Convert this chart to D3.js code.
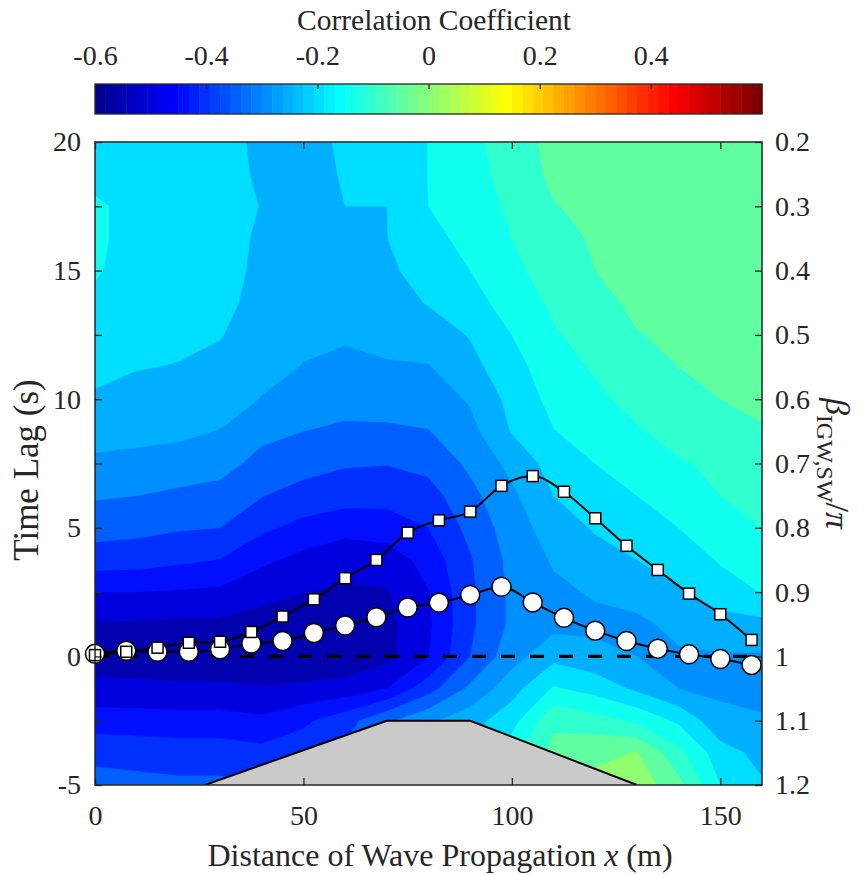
<!DOCTYPE html>
<html>
<head>
<meta charset="utf-8">
<script src="https://cdn.jsdelivr.net/npm/d3@7"></script>
<style>
  body { margin: 0; background: #fff; }
  text { font-family: "Liberation Serif", "Times New Roman", serif; fill: #262626; }
</style>
</head>
<body>
<div id="chart"></div>
<script>
// grid of the correlation map: columns = distance (m), rows = time lag (s), top row first
const distGrid = [0, 10, 20, 30, 40, 50, 60, 70, 80, 90, 100, 110, 120, 130, 140, 150, 160];
const lagGrid = [20, 18.75, 17.5, 16.25, 15, 13.75, 12.5, 11.25, 10, 8.75, 7.5, 6.25, 5, 3.75, 2.5, 1.25, 0, -1.25, -2.5, -3.75, -5];
const corr = [
  [-0.18, -0.185, -0.185, -0.19, -0.206, -0.222, -0.19, -0.185, -0.149, -0.113, -0.075, -0.035, -0.033, -0.03, -0.03, -0.03, -0.03],
  [-0.17, -0.18, -0.185, -0.19, -0.204, -0.222, -0.195, -0.19, -0.149, -0.12, -0.08, -0.04, -0.035, -0.03, -0.03, -0.03, -0.03],
  [-0.14, -0.17, -0.18, -0.188, -0.201, -0.225, -0.2, -0.2, -0.15, -0.13, -0.09, -0.052, -0.04, -0.03, -0.03, -0.03, -0.03],
  [-0.14, -0.17, -0.18, -0.19, -0.204, -0.225, -0.205, -0.201, -0.16, -0.14, -0.1, -0.065, -0.045, -0.032, -0.03, -0.03, -0.03],
  [-0.145, -0.17, -0.18, -0.19, -0.206, -0.228, -0.215, -0.21, -0.178, -0.15, -0.11, -0.08, -0.05, -0.035, -0.032, -0.03, -0.03],
  [-0.16, -0.175, -0.18, -0.192, -0.21, -0.232, -0.225, -0.22, -0.197, -0.168, -0.13, -0.092, -0.065, -0.04, -0.036, -0.032, -0.032],
  [-0.175, -0.185, -0.19, -0.198, -0.22, -0.24, -0.245, -0.235, -0.225, -0.197, -0.15, -0.105, -0.08, -0.052, -0.042, -0.036, -0.035],
  [-0.19, -0.198, -0.202, -0.21, -0.235, -0.252, -0.26, -0.255, -0.253, -0.215, -0.17, -0.12, -0.095, -0.07, -0.05, -0.043, -0.04],
  [-0.205, -0.215, -0.215, -0.225, -0.252, -0.275, -0.28, -0.275, -0.275, -0.245, -0.185, -0.135, -0.11, -0.085, -0.065, -0.05, -0.042],
  [-0.23, -0.235, -0.24, -0.252, -0.285, -0.30, -0.31, -0.31, -0.302, -0.265, -0.197, -0.152, -0.125, -0.105, -0.08, -0.072, -0.053],
  [-0.26, -0.265, -0.27, -0.28, -0.318, -0.33, -0.345, -0.348, -0.335, -0.29, -0.235, -0.18, -0.15, -0.12, -0.105, -0.09, -0.07],
  [-0.295, -0.30, -0.31, -0.32, -0.348, -0.37, -0.38, -0.385, -0.37, -0.315, -0.26, -0.2, -0.17, -0.15, -0.125, -0.1, -0.085],
  [-0.33, -0.335, -0.345, -0.35, -0.39, -0.415, -0.432, -0.422, -0.4, -0.335, -0.275, -0.225, -0.195, -0.17, -0.15, -0.12, -0.1],
  [-0.375, -0.38, -0.39, -0.402, -0.44, -0.465, -0.488, -0.48, -0.43, -0.355, -0.285, -0.245, -0.22, -0.2, -0.18, -0.145, -0.125],
  [-0.45, -0.45, -0.455, -0.46, -0.485, -0.499, -0.505, -0.503, -0.452, -0.36, -0.29, -0.26, -0.245, -0.235, -0.205, -0.175, -0.148],
  [-0.505, -0.507, -0.51, -0.51, -0.52, -0.525, -0.525, -0.515, -0.458, -0.36, -0.29, -0.265, -0.262, -0.258, -0.24, -0.22, -0.215],
  [-0.525, -0.53, -0.535, -0.54, -0.545, -0.545, -0.54, -0.515, -0.452, -0.35, -0.27, -0.215, -0.235, -0.25, -0.255, -0.255, -0.255],
  [-0.485, -0.487, -0.49, -0.49, -0.495, -0.49, -0.48, -0.45, -0.37, -0.29, -0.22, -0.145, -0.17, -0.21, -0.25, -0.26, -0.265],
  [-0.425, -0.427, -0.43, -0.43, -0.44, -0.41, -0.37, -0.31, -0.26, -0.22, -0.17, -0.06, -0.08, -0.11, -0.16, -0.235, -0.245],
  [-0.365, -0.37, -0.375, -0.375, -0.385, -0.37, -0.34, -0.28, -0.24, -0.2, -0.12, -0.035, -0.01, 0.002, -0.085, -0.18, -0.215],
  [-0.33, -0.335, -0.34, -0.34, -0.35, -0.34, -0.32, -0.27, -0.23, -0.19, -0.1, -0.02, 0.012, 0.03, -0.035, -0.15, -0.195]
];

// marker series
const markerDist = [0, 7.5, 15, 22.5, 30, 37.5, 45, 52.5, 60, 67.5, 75, 82.5, 90, 97.5, 105, 112.5, 120, 127.5, 135, 142.5, 150, 157.5];
const lagSquares = [0.05, 0.18, 0.34, 0.53, 0.57, 0.95, 1.55, 2.22, 3.04, 3.75, 4.81, 5.29, 5.63, 6.63, 7.01, 6.40, 5.37, 4.30, 3.36, 2.44, 1.64, 0.64];
const lagCircles = [0.1, 0.22, 0.18, 0.18, 0.28, 0.50, 0.60, 0.91, 1.20, 1.52, 1.90, 2.09, 2.39, 2.71, 2.10, 1.50, 1.00, 0.60, 0.30, 0.08, -0.10, -0.33];

// submerged bar outline
const barDist = [26.4, 70, 90, 130];
const barLag = [-5, -2.5, -2.5, -5];

// ticks
const distTicks = [0, 50, 100, 150];
const lagTicks = [-5, 0, 5, 10, 15, 20];
const betaTicks = [0.2, 0.3, 0.4, 0.5, 0.6, 0.7, 0.8, 0.9, 1, 1.1, 1.2];
const cbarLabels = [-0.6, -0.4, -0.2, 0, 0.2, 0.4];
const cbarTicks = [-0.4, -0.2, 0, 0.2, 0.4];

const W = 867, H = 875;
const pL = 95, pR = 762, pT = 142, pB = 785;

// MATLAB jet(64) colour for a given colour index 1..64
function jet(k) {
  const r = k <= 24 ? 0 : k <= 40 ? (k - 24) / 16 : k <= 56 ? 1 : (72 - k) / 16;
  const g = k <= 8 ? 0 : k <= 24 ? (k - 8) / 16 : k <= 40 ? 1 : k <= 56 ? (56 - k) / 16 : 0;
  const b = k <= 8 ? (k + 8) / 16 : k <= 24 ? 1 : k <= 40 ? (40 - k) / 16 : 0;
  return d3.rgb(r * 255, g * 255, b * 255).toString();
}
const cmin = -0.6, cmax = 0.6;
const colorOf = v => jet(Math.min(64, Math.floor((v - cmin) / (cmax - cmin) * 64 + 1e-9) + 1));

const svg = d3.select("#chart").append("svg")
  .attr("width", W).attr("height", H)
  .style("background", "#fff");

const x = d3.scaleLinear().domain([0, 160]).range([pL, pR]);
const y = d3.scaleLinear().domain([-5, 20]).range([pB, pT]);
const yBeta = d3.scaleLinear().domain([1.2, 0.2]).range([pB, pT]);
const xc = d3.scaleLinear().domain([cmin, cmax]).range([pL, pR]);

svg.append("defs").append("clipPath").attr("id", "plotclip")
  .append("rect").attr("x", pL).attr("y", pT).attr("width", pR - pL).attr("height", pB - pT);

// filled contours
const nx = distGrid.length, ny = lagGrid.length;
const gx = d3.scaleLinear().domain([0.5, nx - 0.5]).range([distGrid[0], distGrid[nx - 1]]);
const gy = d3.scaleLinear().domain([0.5, ny - 0.5]).range([lagGrid[0], lagGrid[ny - 1]]);
const proj = d3.geoTransform({ point(px, py) { this.stream.point(x(gx(px)), y(gy(py))); } });
const path = d3.geoPath(proj);
const levels = d3.range(0, 25).map(i => +(cmin + i * 0.05).toFixed(2));
const contours = d3.contours().size([nx, ny]).thresholds(levels)(corr.flat());

const map = svg.append("g").attr("clip-path", "url(#plotclip)");
map.append("rect").attr("x", pL).attr("y", pT).attr("width", pR - pL).attr("height", pB - pT)
  .attr("fill", colorOf(-0.6));
map.selectAll("path.band")
  .data(contours)
  .enter().append("path")
  .attr("class", "band")
  .attr("d", path)
  .attr("fill", d => colorOf(d.value))
  .attr("stroke", d => colorOf(d.value))
  .attr("stroke-width", 0.5);

// zero-lag dashed line
map.append("line")
  .attr("x1", x(0)).attr("x2", x(160))
  .attr("y1", y(0)).attr("y2", y(0))
  .attr("stroke", "#000").attr("stroke-width", 3.2)
  .attr("stroke-dasharray", "14,15");

// bar
map.append("path")
  .datum(barDist.map((d, i) => [d, barLag[i]]))
  .attr("d", d3.line().x(d => x(d[0])).y(d => y(d[1])))
  .attr("fill", "#cacaca").attr("stroke", "#000").attr("stroke-width", 2);

// series
const line = d3.line().curve(d3.curveMonotoneX).x(d => x(d[0])).y(d => y(d[1]));
const circData = markerDist.map((d, i) => [d, lagCircles[i]]);
const sqData = markerDist.map((d, i) => [d, lagSquares[i]]);

svg.append("path").datum(circData).attr("d", line)
  .attr("fill", "none").attr("stroke", "#000").attr("stroke-width", 2);
svg.append("path").datum(sqData).attr("d", line)
  .attr("fill", "none").attr("stroke", "#000").attr("stroke-width", 2);

svg.selectAll("circle.mk")
  .data(circData)
  .enter().append("circle")
  .attr("class", "mk")
  .attr("cx", d => x(d[0])).attr("cy", d => y(d[1]))
  .attr("r", 9.5)
  .attr("fill", "#fff").attr("stroke", "#000").attr("stroke-width", 1.5);

const sq = 11;
svg.selectAll("rect.mk")
  .data(sqData)
  .enter().append("rect")
  .attr("class", "mk")
  .attr("x", d => x(d[0]) - sq / 2).attr("y", d => y(d[1]) - sq / 2)
  .attr("width", sq).attr("height", sq)
  .attr("fill", "#fff").attr("stroke", "#000").attr("stroke-width", 1.5);

// axes
function styleAxis(g) {
  g.select(".domain").remove();
  g.selectAll("line").attr("stroke", "#262626").attr("stroke-width", 1.3);
  g.selectAll("text").attr("font-family", "Liberation Serif, serif").attr("font-size", 28).attr("fill", "#262626");
}
svg.append("g").attr("transform", `translate(0,${pB})`)
  .call(d3.axisBottom(x).tickValues(distTicks).tickSizeInner(-7).tickSizeOuter(0).tickPadding(20).tickFormat(d => String(d)))
  .call(styleAxis);
svg.append("g").attr("transform", `translate(0,${pT})`)
  .call(d3.axisTop(x).tickValues(distTicks).tickSizeInner(-7).tickSizeOuter(0).tickFormat(""))
  .call(styleAxis);
svg.append("g").attr("transform", `translate(${pL},0)`)
  .call(d3.axisLeft(y).tickValues(lagTicks).tickSizeInner(0).tickSizeOuter(0).tickPadding(14).tickFormat(d => String(d)))
  .call(styleAxis);
svg.append("g").attr("transform", `translate(${pL},0)`)
  .call(d3.axisLeft(yBeta).tickValues(betaTicks).tickSizeInner(-7).tickSizeOuter(0).tickFormat(""))
  .call(styleAxis);
svg.append("g").attr("transform", `translate(${pR},0)`)
  .call(d3.axisRight(yBeta).tickValues(betaTicks).tickSizeInner(-7).tickSizeOuter(0).tickPadding(13).tickFormat(d3.format("~g")))
  .call(styleAxis);

svg.append("rect")
  .attr("x", pL).attr("y", pT).attr("width", pR - pL).attr("height", pB - pT)
  .attr("fill", "none").attr("stroke", "#262626").attr("stroke-width", 1.5);

// axis titles
svg.append("text")
  .attr("x", 440).attr("y", 866)
  .attr("text-anchor", "middle").attr("font-size", 32)
  .call(t => {
    t.append("tspan").text("Distance of Wave Propagation ");
    t.append("tspan").attr("font-style", "italic").text("x");
    t.append("tspan").text(" (m)");
  });

svg.append("text")
  .attr("transform", `translate(38,470) rotate(-90)`)
  .attr("text-anchor", "middle").attr("font-size", 35)
  .text("Time Lag (s)");

svg.append("text")
  .attr("transform", `translate(826,${(pT + pB) / 2}) rotate(90)`)
  .attr("text-anchor", "middle").attr("font-size", 34)
  .call(t => {
    t.append("tspan").attr("font-style", "italic").text("β");
    t.append("tspan").attr("font-size", 24).attr("dy", 9).text("IGW,SW");
    t.append("tspan").attr("dy", -9).text("/");
    t.append("tspan").attr("font-style", "italic").text("π");
  });

// colour bar
const cb = svg.append("g");
const cbTop = 84, cbH = 30;
cb.selectAll("rect.cell")
  .data(d3.range(1, 65))
  .enter().append("rect")
  .attr("class", "cell")
  .attr("x", k => xc(cmin + (k - 1) * (cmax - cmin) / 64))
  .attr("y", cbTop)
  .attr("width", (pR - pL) / 64 + 0.5)
  .attr("height", cbH)
  .attr("fill", k => jet(k));
cb.append("rect")
  .attr("x", pL).attr("y", cbTop).attr("width", pR - pL).attr("height", cbH)
  .attr("fill", "none").attr("stroke", "#262626").attr("stroke-width", 1.3);
svg.append("g").attr("transform", `translate(0,${cbTop})`)
  .call(d3.axisTop(xc).tickValues(cbarTicks).tickSizeInner(-5).tickSizeOuter(0).tickFormat(""))
  .call(styleAxis);
svg.append("g").attr("transform", `translate(0,${cbTop})`)
  .call(d3.axisTop(xc).tickValues(cbarLabels).tickSize(0).tickPadding(19).tickFormat(d => String(d)))
  .call(styleAxis);
svg.append("text")
  .attr("x", 434).attr("y", 30)
  .attr("text-anchor", "middle").attr("font-size", 29.5)
  .text("Correlation Coefficient");
</script>
</body>
</html>
